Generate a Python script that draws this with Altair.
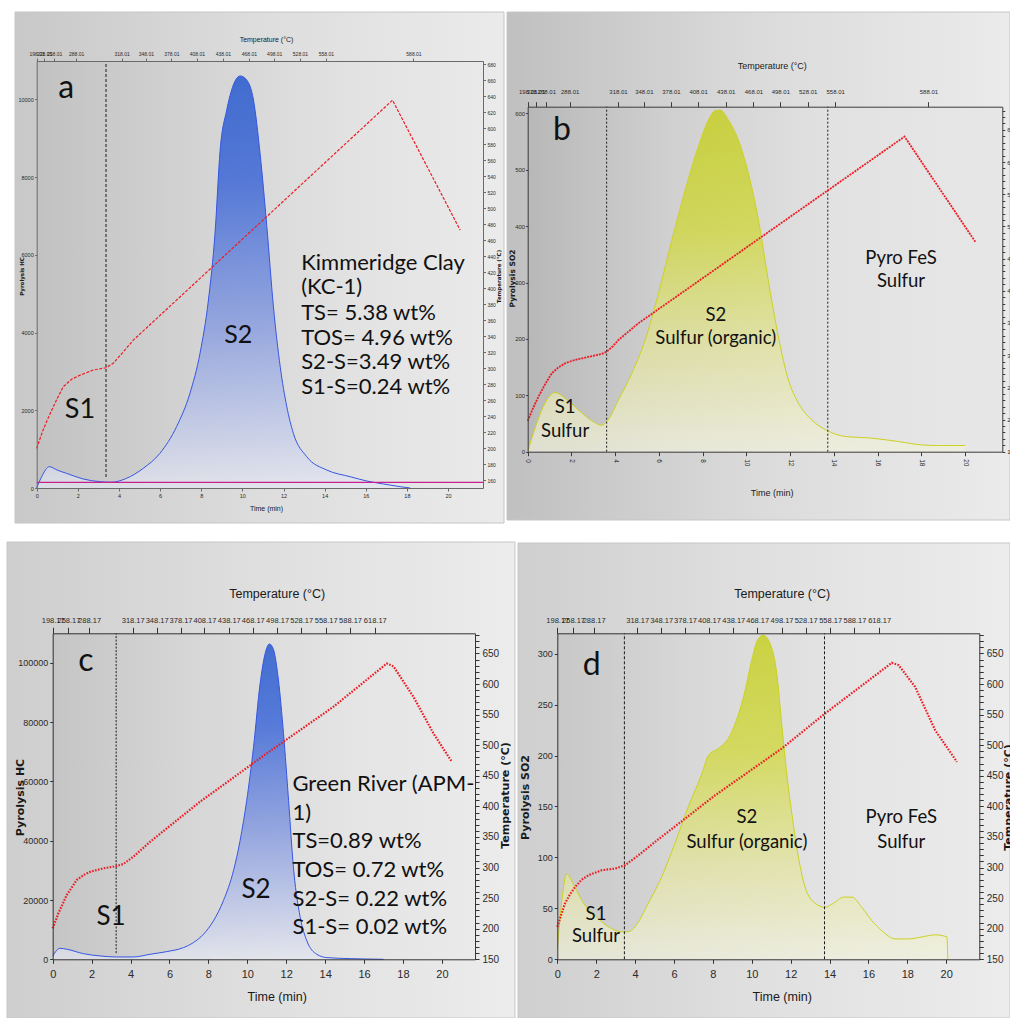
import altair as alt
import pandas as pd

W, H = 1010, 1018
T_END = 21.7

NARROW = "Liberation Sans Narrow, Liberation Sans, Arial, sans-serif"
BOLD = "DejaVu Sans, Verdana, sans-serif"
NOTE = "Lato, Carlito, Open Sans, sans-serif"

# ---------------- a: Kimmeridge Clay (KC-1), HC trace ----------------
a_time = [0, 0.25, 0.61, 1.0, 1.45, 2.26, 3.07, 3.64, 4.37, 5.18, 5.99, 6.8, 7.45, 7.94,
          8.35, 8.67, 8.92, 9.24, 9.56, 9.89, 10.21, 10.54, 10.86, 11.19, 11.51, 11.84,
          12.16, 12.48, 13.13, 14.1, 15.24, 16.05, 16.86, 17.67, 18.16]
a_hc = [0, 300, 548, 460, 377, 232, 163, 150, 249, 506, 892, 1578, 2436, 3465, 4836,
        6552, 8696, 9725, 10368, 10600, 10497, 9982, 8611, 6723, 4664, 3121, 2092, 1407,
        805, 463, 291, 180, 103, 34, 0]
a_temp_time = [0, 0.3, 0.65, 1.0, 1.29, 1.7, 2.1, 2.75, 3.37, 3.72, 4.2, 4.7, 17.3, 20.59]
a_temp = [199.6, 222, 243, 262, 276.6, 286, 291, 297.5, 300.4, 306, 320, 335, 635, 472.5]
a_cuts = [3.37]
a_baseline = 147

# ---------------- b: Kimmeridge Clay (KC-1), SO2 trace ----------------
b_time = [0, 0.41, 0.79, 1.25, 1.71, 2.32, 2.93, 3.38, 3.61, 4.15, 4.76, 5.37, 5.98, 6.59,
          7.2, 7.8, 8.26, 8.57, 8.8, 9.18, 9.63, 10.09, 10.55, 11.0, 11.46, 11.92, 12.38,
          12.99, 13.67, 14.51, 15.73, 16.95, 18.02, 18.78, 20.0]
b_so2 = [0, 50, 86, 105, 95, 74, 55, 47, 53, 92, 139, 198, 281, 375, 464, 541, 588, 605,
         606, 588, 553, 494, 411, 304, 204, 127, 86, 56, 38, 27, 24, 18, 12, 11, 11]
b_temp_time = [0, 0.25, 0.49, 0.8, 1.1, 1.4, 1.71, 2.1, 2.47, 3.0, 3.38, 3.61, 3.9, 4.15,
               5.06, 17.23, 20.49]
b_temp = [198, 218, 235.5, 255, 271.8, 281, 287.3, 292, 295, 299, 301.8, 305.4, 314,
          323.6, 349.5, 639.6, 474.9]
b_cuts = [3.61, 13.72]

# ---------------- c: Green River (APM-1), HC trace ----------------
c_time = [0, 0.38, 0.72, 1.58, 2.43, 3.29, 4.15, 5.0, 5.86, 6.72, 7.23, 7.75, 8.26, 8.77,
          9.29, 9.63, 9.97, 10.32, 10.66, 10.92, 11.14, 11.35, 11.6, 11.86, 12.12, 12.37,
          12.72, 13.06, 13.57, 14.09, 15.29, 17.0]
c_hc = [1100, 3700, 3400, 1900, 1130, 790, 790, 1690, 2600, 3950, 5640, 8470, 12980,
        19750, 29910, 40070, 53610, 71670, 93120, 103270, 106400, 104400, 94240, 76190,
        53610, 31040, 14110, 6210, 1690, 560, 230, 0]
c_temp_time = [0, 0.29, 0.72, 1.23, 1.6, 1.92, 2.6, 3.29, 3.63, 4.15, 5.0, 7.57, 11.0,
               14.43, 17.17, 17.51, 18.54, 19.57, 20.51]
c_temp = [200.7, 225, 255, 279.6, 288, 293, 298.7, 302.5, 305.8, 317.8, 342, 407.6, 486.6,
          563, 633.7, 629, 579, 519, 473]
c_cuts = [3.26]

# ---------------- d: Green River (APM-1), SO2 trace ----------------
d_time = [0, 0.22, 0.48, 0.82, 1.25, 1.94, 2.62, 3.31, 3.65, 4.0, 4.68, 5.37, 6.05, 6.74,
          7.43, 7.77, 8.28, 8.8, 9.14, 9.66, 10.0, 10.34, 10.6, 10.94, 11.29, 11.54, 11.8,
          12.06, 12.4, 12.74, 13.26, 13.77, 14.2, 14.72, 15.15, 15.66, 16.17, 16.69, 17.38,
          18.06, 18.75, 19.43, 20.03, 20.08]
d_so2 = [10, 55, 84, 74, 58, 43, 32, 27, 27, 32, 55, 81, 114, 150, 182, 200, 207, 217, 231,
         264, 294, 315, 318, 310, 280, 231, 182, 143, 100, 71, 55, 51, 55, 61, 61, 51, 38,
         28, 20, 20, 22, 24, 22, 0]
d_temp_time = [0, 0.39, 0.65, 0.91, 1.25, 1.6, 2.28, 2.97, 3.48, 4.17, 5.03, 8.11, 11.54,
               13.77, 17.2, 17.55, 18.4, 19.43, 20.55]
d_temp = [202.9, 241, 256, 268, 280, 287.4, 295.6, 298.3, 303.8, 320, 342, 418, 494.6,
          552, 634.7, 631, 595.5, 524.6, 472.8]
d_cuts = [3.45, 13.74]

# temperature scale printed along the top (time position -> oven temperature)
ab_top_time = [0, 0.36, 0.85, 1.92, 4.13, 5.31, 6.55, 7.79, 9.05, 10.32, 11.55, 12.8, 14.06, 18.32]
ab_top_label = ["198.01", "228.01", "258.01", "288.01", "318.01", "348.01", "378.01",
                "408.01", "438.01", "468.01", "498.01", "528.01", "558.01", "588.01"]
cd_top_time = [0, 0.81, 1.87, 4.11, 5.34, 6.57, 7.8, 9.05, 10.28, 11.53, 12.77, 14.03, 15.28, 16.55]
cd_top_label = ["198.17", "258.17", "288.17", "318.17", "348.17", "378.17", "408.17",
                "438.17", "468.17", "498.17", "528.17", "558.17", "588.17", "618.17"]

BLUE_FILL = [(0, "#003ecb"), (0.25, "#1c4fd6"), (0.6, "#7890e0"), (1, "#e6e8f2")]
YELLOW_FILL = [(0, "#c2cd00"), (0.35, "#cfd72a"), (0.7, "#e3e498"), (1, "#f1f1de")]


def hgrad(stops):
    return alt.LinearGradient(gradient="linear", x1=0, y1=0, x2=1, y2=0,
                              stops=[alt.GradientStop(offset=o, color=c) for o, c in stops])


def vgrad(stops):
    return alt.LinearGradient(gradient="linear", x1=0, y1=0, x2=0, y2=1,
                              stops=[alt.GradientStop(offset=o, color=c) for o, c in stops])


def label_expr(times, labels):
    arr = ",".join("'%s'" % s for s in labels)
    idx = ",".join(repr(t) for t in times)
    return "[%s][indexof([%s], datum.value)]" % (arr, idx)


def mk_axis(orient, offset, title_at, origin, **kw):
    # title_at is the centre of the title on the page; axis groups sit at `origin`
    opts = dict(orient=orient, offset=offset, grid=False, labelOverlap=False,
                labelFlush=False, zindex=1,
                titleX=round(title_at[0] - origin[0], 2),
                titleY=round(title_at[1] - origin[1], 2),
                titleAlign="center", titleBaseline="middle")
    opts.update(kw)
    return alt.Axis(**opts)


def panel(p):
    x0, y0, x1, y1 = p["plot"]
    xs = alt.Scale(domain=[0, T_END], range=[x0, x1], nice=False)
    ys = alt.Scale(domain=[0, p["ymax"]], range=[y1, y0], nice=False)
    ts = alt.Scale(domain=p["tdom"], range=[y1, y0], nice=False, zero=False)
    st = p["style"]
    tt = p["titles"]
    common = dict(domainColor=st["ink"], tickColor=st["ink"], labelColor="#2a2a2a",
                  titleColor="#1a1a1a", labelFont=NARROW, titleFont=NARROW,
                  titleFontWeight="normal")

    bottom = mk_axis("bottom", y1 - H, tt["bottom"], (0, y1),
                     values=list(range(0, 21, 2)), format="d",
                     title="Time (min)", **common, **st["bottom"])
    top = mk_axis("top", -y0, tt["top"], (0, y0), values=p["top_time"],
                  labelExpr=label_expr(p["top_time"], p["top_label"]),
                  title="Temperature (°C)", **common, **st["top"])
    side = dict(common)
    side.update(titleFont=BOLD, titleFontWeight="bold")
    left = mk_axis("left", -x0, tt["left"], (x0, 0), values=p["yticks"], format="d",
                   title=p["ytitle"], titleAngle=270, **side, **st["left"])
    right = mk_axis("right", x1 - W, tt["right"], (x1, 0), values=p["tticks"],
                    labelExpr=p["tlabel"], title="Temperature (°C)", titleAngle=270,
                    **side, **st["right"])

    X = lambda f: alt.X(f, scale=xs)
    Y = lambda f: alt.Y(f, scale=ys)

    f = p["frame"]
    frame = alt.Chart(pd.DataFrame({"k": [0]})).mark_rect(
        fill=hgrad(p["frame_fill"]), stroke="#c6c6c6", strokeWidth=1
    ).encode(x=alt.value(f[0]), y=alt.value(f[1]), x2=alt.value(f[2]), y2=alt.value(f[3]))

    # plot-area background; it is the one layer that declares the time/signal axes
    plot_bg = alt.Chart(pd.DataFrame({"t0": [0.0], "t1": [T_END], "v0": [0.0],
                                      "v1": [p["ymax"]]})).mark_rect(
        fill=hgrad(p["plot_fill"])
    ).encode(x=alt.X("t0:Q", scale=xs, axis=bottom), x2="t1:Q",
             y=alt.Y("v0:Q", scale=ys, axis=left), y2="v1:Q")

    trace = alt.Chart(pd.DataFrame({"t": p["time"], "v": p["signal"]})).mark_area(
        interpolate="monotone", fill=vgrad(p["area_fill"]),
        line=alt.OverlayMarkDef(color=p["line_color"], strokeWidth=1)
    ).encode(x=X("t:Q"), y=Y("v:Q"))

    layers = [plot_bg, trace]

    if p.get("baseline") is not None:
        layers.append(alt.Chart(pd.DataFrame({"t0": [0.0], "t1": [T_END],
                                              "v": [p["baseline"]]})).mark_rule(
            color="#c8208c", strokeWidth=1.2
        ).encode(x=X("t0:Q"), x2="t1:Q", y=Y("v:Q")))

    cut_df = pd.DataFrame({"t": p["cuts"], "v0": [p["cut_span"][0]] * len(p["cuts"]),
                           "v1": [p["cut_span"][1]] * len(p["cuts"])})
    layers.append(alt.Chart(cut_df).mark_rule(
        color="#1a1a1a", strokeWidth=1, strokeDash=p["cut_dash"]
    ).encode(x=X("t:Q"), y=Y("v0:Q"), y2="v1:Q"))

    for align, rows in (("center", p["notes"]), ("left", p["block"])):
        if not rows:
            continue
        df = pd.DataFrame(rows, columns=["txt", "t", "v", "fs"])
        layers.append(alt.Chart(df).mark_text(
            align=align, baseline="middle", font=NOTE, color="#111111"
        ).encode(x=X("t:Q"), y=Y("v:Q"), text="txt:N",
                 size=alt.Size("fs:Q", scale=None, legend=None)))

    temp = alt.Chart(pd.DataFrame({"t": p["temp_time"], "T": p["temp"]})).mark_line(
        color="#ec1c24", interpolate="linear", **p["temp_style"]
    ).encode(x=alt.X("t:Q", scale=xs, axis=top), y=alt.Y("T:Q", scale=ts, axis=right))

    return alt.layer(frame, alt.layer(*layers), temp).resolve_scale(
        y="independent").resolve_axis(x="independent", y="independent")


tiny_style = dict(
    ink="#6a6a6a",
    bottom=dict(labelFontSize=5.5, tickSize=3, labelPadding=2, titleFontSize=7),
    top=dict(labelFontSize=5, tickSize=3, labelPadding=2, titleFontSize=7),
    left=dict(labelFontSize=5.5, tickSize=2, labelPadding=1.5, titleFontSize=5.5),
    right=dict(labelFontSize=5, tickSize=2.5, labelPadding=1.5, titleFontSize=5.5),
)
small_style = dict(
    ink="#3c3c3c",
    bottom=dict(labelFontSize=6.5, labelAngle=90, tickSize=4, labelPadding=3, titleFontSize=9),
    top=dict(labelFontSize=6, tickSize=5, labelPadding=7, titleFontSize=9),
    left=dict(labelFontSize=6, tickSize=2, labelPadding=1, titleFontSize=7.5),
    right=dict(labelFontSize=6, tickSize=2.5, labelPadding=2, titleFontSize=7.5),
)
large_style = dict(
    ink="#333333",
    bottom=dict(labelFontSize=11, tickSize=4, labelPadding=5, titleFontSize=12.5),
    top=dict(labelFontSize=7.5, tickSize=6, labelPadding=3, titleFontSize=12.5),
    left=dict(labelFontSize=9, tickSize=3, labelPadding=2, titleFontSize=11),
    right=dict(labelFontSize=10, tickSize=4, labelPadding=3, titleFontSize=11),
)

PANELS = [
    dict(  # a
        plot=(36.7, 61, 483, 488), frame=(15, 12, 504, 523),
        titles=dict(top=(266, 39), bottom=(266, 508), left=(21.5, 276), right=(498.5, 276)),
        frame_fill=[(0, "#c8c8c8"), (0.5, "#dddddd"), (1, "#ebebeb")],
        plot_fill=[(0, "#c2c2c2"), (0.35, "#d3d3d3"), (0.7, "#e2e2e2"), (1, "#e9e9e9")],
        ymax=10985, tdom=[150, 684], yticks=list(range(0, 10001, 2000)), ytitle="Pyrolysis HC",
        tticks=list(range(160, 681, 20)), tlabel="datum.label",
        top_time=ab_top_time, top_label=ab_top_label,
        time=a_time, signal=a_hc, area_fill=BLUE_FILL, line_color="#3556e2",
        temp_time=a_temp_time, temp=a_temp,
        temp_style=dict(strokeWidth=1.2, strokeDash=[3, 1.5]),
        baseline=a_baseline, cuts=a_cuts, cut_span=(283, 10908), cut_dash=[3, 2],
        notes=[("a", 1.43, 10292, 32), ("S1", 2.1, 2007, 27), ("S2", 9.8, 3937, 25)],
        block=[("Kimmeridge Clay", 12.86, 5789, 22), ("(KC-1)", 12.86, 5172, 22),
               ("TS= 5.38 wt%", 12.86, 4503, 22), ("TOS= 4.96 wt%", 12.86, 3860, 22),
               ("S2-S=3.49 wt%", 12.86, 3242, 22), ("S1-S=0.24 wt%", 12.86, 2599, 22)],
        style=tiny_style,
    ),
    dict(  # b
        plot=(527.7, 106.7, 1002.3, 451.7), frame=(507, 12, 1010, 520),
        titles=dict(top=(771.7, 65), bottom=(771.7, 492), left=(512, 278), right=(1016, 278)),
        frame_fill=[(0, "#c0c0c0"), (0.5, "#dbdbdb"), (1, "#ebebeb")],
        plot_fill=[(0, "#b8b8b8"), (0.3, "#d0d0d0"), (0.65, "#e2e2e2"), (1, "#e7e7e7")],
        ymax=612, tdom=[150, 686], yticks=list(range(0, 601, 100)), ytitle="Pyrolysis SO2",
        tticks=list(range(150, 681, 10)),
        tlabel="datum.value % 50 === 0 ? datum.label : ''",
        top_time=ab_top_time, top_label=ab_top_label,
        time=b_time, signal=b_so2, area_fill=YELLOW_FILL, line_color="#ccd21e",
        temp_time=b_temp_time, temp=b_temp,
        temp_style=dict(strokeWidth=1.8, strokeDash=[2, 1]),
        baseline=None, cuts=b_cuts, cut_span=(0, 612), cut_dash=[2, 2],
        notes=[("b", 1.57, 570, 32), ("S1", 1.71, 79, 18.5), ("Sulfur", 1.71, 37, 18.5),
               ("S2", 8.6, 242, 18.5), ("Sulfur (organic)", 8.6, 202, 18.5),
               ("Pyro FeS", 17.07, 343, 18.5), ("Sulfur", 17.07, 303, 18.5)],
        block=[],
        style=small_style,
    ),
    dict(  # c
        plot=(52.7, 633.3, 475, 959.3), frame=(7, 542, 515, 1018),
        titles=dict(top=(276.7, 593), bottom=(276.7, 996), left=(20, 797), right=(505, 795)),
        frame_fill=[(0, "#cecece"), (0.5, "#dfdfdf"), (1, "#ececec")],
        plot_fill=[(0, "#c5c5c5"), (0.3, "#d5d5d5"), (0.7, "#e4e4e4"), (1, "#eaeaea")],
        ymax=110000, tdom=[150, 683], yticks=list(range(0, 100001, 20000)),
        ytitle="Pyrolysis HC",
        tticks=list(range(150, 681, 10)),
        tlabel="datum.value % 50 === 0 ? datum.label : ''",
        top_time=cd_top_time, top_label=cd_top_label,
        time=c_time, signal=c_hc, area_fill=BLUE_FILL, line_color="#3556e2",
        temp_time=c_temp_time, temp=c_temp,
        temp_style=dict(strokeWidth=2.2, strokeDash=[1.6, 1.4]),
        baseline=None, cuts=c_cuts, cut_span=(2100, 110000), cut_dash=[2, 1.5],
        notes=[("c", 1.71, 100770, 32), ("S1", 3.0, 14424, 26), ("S2", 10.45, 23228, 26)],
        block=[("Green River (APM-", 12.32, 59018, 22), ("1)", 12.32, 49436, 22),
               ("TS=0.89 wt%", 12.32, 39820, 22), ("TOS= 0.72 wt%", 12.32, 30237, 22),
               ("S2-S= 0.22 wt%", 12.32, 20418, 22), ("S1-S= 0.02 wt%", 12.32, 10835, 22)],
        style=large_style,
    ),
    dict(  # d
        plot=(557.3, 633.3, 979.3, 959.3), frame=(518, 543, 1010, 1018),
        titles=dict(top=(781.7, 593), bottom=(781.7, 996), left=(525, 797), right=(1008, 797)),
        frame_fill=[(0, "#cfcfcf"), (0.5, "#e0e0e0"), (1, "#ececec")],
        plot_fill=[(0, "#c8c8c8"), (0.35, "#d9d9d9"), (0.7, "#e5e5e5"), (1, "#eaeaea")],
        ymax=320, tdom=[150, 683], yticks=list(range(0, 301, 50)), ytitle="Pyrolysis SO2",
        tticks=list(range(150, 681, 10)),
        tlabel="datum.value % 50 === 0 ? datum.label : ''",
        top_time=cd_top_time, top_label=cd_top_label,
        time=d_time, signal=d_so2, area_fill=YELLOW_FILL, line_color="#ccd21e",
        temp_time=d_temp_time, temp=d_temp,
        temp_style=dict(strokeWidth=2.2, strokeDash=[1.6, 1.4]),
        baseline=None, cuts=d_cuts, cut_span=(0, 320), cut_dash=[3, 2],
        notes=[("d", 1.77, 288.6, 32), ("S2", 9.75, 139.7, 18.5),
               ("Sulfur (organic)", 9.75, 115.2, 18.5), ("Pyro FeS", 17.69, 139.7, 18.5),
               ("Sulfur", 17.69, 115.2, 18.5), ("S1", 1.99, 44.9, 18.5),
               ("Sulfur", 1.99, 22.6, 18.5)],
        block=[],
        style=large_style,
    ),
]

chart = alt.layer(*[panel(p) for p in PANELS]).resolve_scale(
    x="independent", y="independent"
).resolve_axis(
    x="independent", y="independent"
).properties(
    width=W, height=H, padding=0, background="white",
    autosize=alt.AutoSizeParams(type="none"),
).configure_view(
    strokeWidth=0
).configure_axis(
    grid=False, zindex=1, domainWidth=1, tickWidth=1
)

chart.save("out.html", embed_options={"renderer": "svg", "actions": False})
